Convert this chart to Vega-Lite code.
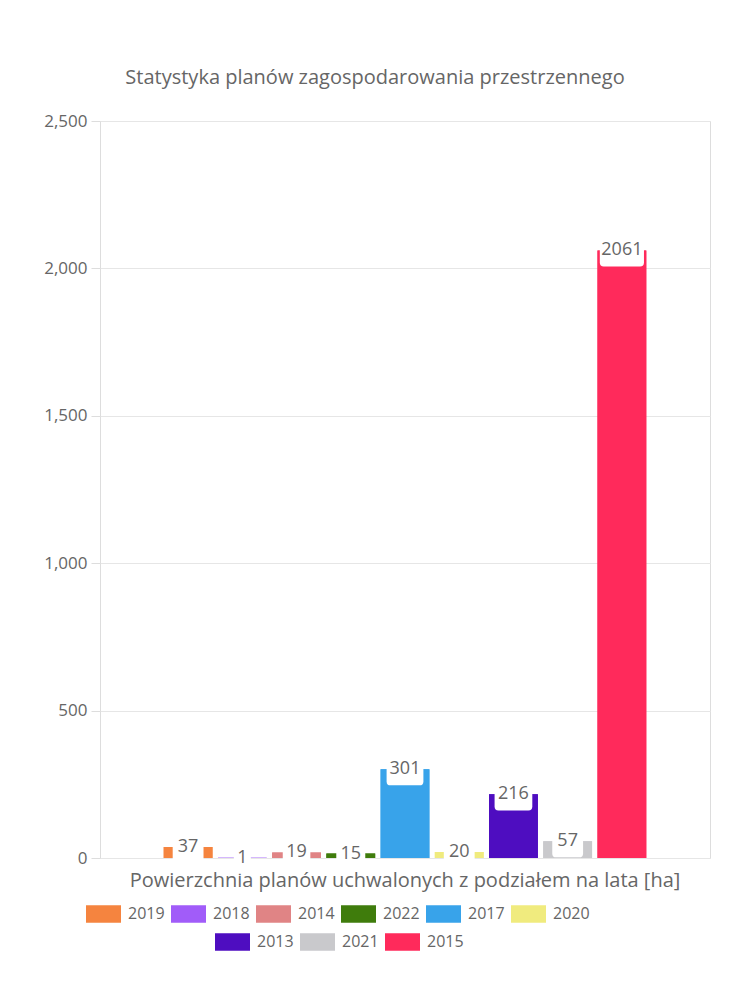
{
  "$schema": "https://vega.github.io/schema/vega-lite/v6.json",
  "width": 610,
  "height": 737,
  "autosize": {"type": "none"},
  "padding": {"left": 100, "top": 121, "right": 40, "bottom": 142},
  "background": "white",
  "config": {
    "font": "Open Sans",
    "view": {"stroke": "#dddddd"},
    "legend": {
      "title": null,
      "orient": "none",
      "direction": "horizontal",
      "symbolType": "M-1,-0.5H1V0.5H-1Z",
      "symbolSize": 1225,
      "symbolStrokeWidth": 0,
      "symbolOpacity": 1,
      "labelFontSize": 16,
      "labelColor": "#666666",
      "labelOffset": 7,
      "columnPadding": 6,
      "padding": 0
    }
  },
  "title": {
    "text": "Statystyka planów zagospodarowania przestrzennego",
    "fontSize": 20,
    "fontWeight": "normal",
    "color": "#666666",
    "offset": 24,
    "dx": -30
  },
  "data": {
    "values": [
      {"kategoria": "Powierzchnia planów uchwalonych z podziałem na lata [ha]", "rok": "2019", "wartosc": 37},
      {"kategoria": "Powierzchnia planów uchwalonych z podziałem na lata [ha]", "rok": "2018", "wartosc": 1},
      {"kategoria": "Powierzchnia planów uchwalonych z podziałem na lata [ha]", "rok": "2014", "wartosc": 19},
      {"kategoria": "Powierzchnia planów uchwalonych z podziałem na lata [ha]", "rok": "2022", "wartosc": 15},
      {"kategoria": "Powierzchnia planów uchwalonych z podziałem na lata [ha]", "rok": "2017", "wartosc": 301},
      {"kategoria": "Powierzchnia planów uchwalonych z podziałem na lata [ha]", "rok": "2020", "wartosc": 20},
      {"kategoria": "Powierzchnia planów uchwalonych z podziałem na lata [ha]", "rok": "2013", "wartosc": 216},
      {"kategoria": "Powierzchnia planów uchwalonych z podziałem na lata [ha]", "rok": "2021", "wartosc": 57},
      {"kategoria": "Powierzchnia planów uchwalonych z podziałem na lata [ha]", "rok": "2015", "wartosc": 2061}
    ]
  },
  "encoding": {
    "x": {
      "field": "kategoria",
      "type": "nominal",
      "scale": {"paddingOuter": 0.125, "paddingInner": 0},
      "axis": {
        "title": null,
        "ticks": false,
        "domain": false,
        "labelAngle": 0,
        "labelFontSize": 20,
        "labelColor": "#666666",
        "labelPadding": 12,
        "labelLimit": 700
      }
    },
    "xOffset": {
      "field": "rok",
      "type": "nominal",
      "scale": {
        "domain": ["2019", "2018", "2014", "2022", "2017", "2020", "2013", "2021", "2015"],
        "paddingInner": 0.1,
        "paddingOuter": 0.05
      }
    },
    "y": {
      "field": "wartosc",
      "type": "quantitative",
      "scale": {"domain": [0, 2500]},
      "axis": {
        "title": null,
        "values": [0, 500, 1000, 1500, 2000, 2500],
        "format": ",.0f",
        "labelFontSize": 17,
        "labelColor": "#666666",
        "labelPadding": 4,
        "tickSize": 9,
        "tickColor": "#dddddd",
        "domain": false,
        "gridColor": "#e6e6e6"
      }
    }
  },
  "layer": [
    {
      "mark": {"type": "bar"},
      "encoding": {
        "color": {
          "field": "rok",
          "type": "nominal",
          "scale": {
            "domain": ["2019", "2018", "2014", "2022", "2017", "2020", "2013", "2021", "2015"],
            "range": ["#F5843F", "#A15CF9", "#E08485", "#3F7C0C", "#38A3EA", "#F0EB7E", "#4E0DC0", "#C9C9CC", "#FF2A5B"]
          },
          "legend": {
            "values": ["2019", "2018", "2014", "2022", "2017", "2020"],
            "legendX": -14,
            "legendY": 775
          }
        }
      }
    },
    {
      "mark": {"type": "bar"},
      "encoding": {
        "fill": {
          "field": "rok",
          "type": "nominal",
          "scale": {
            "domain": ["2013", "2021", "2015", "2019", "2018", "2014", "2022", "2017", "2020"],
            "range": ["#4E0DC0", "#C9C9CC", "#FF2A5B", "#F5843F", "#A15CF9", "#E08485", "#3F7C0C", "#38A3EA", "#F0EB7E"]
          },
          "legend": {
            "values": ["2013", "2021", "2015"],
            "legendX": 115,
            "legendY": 803
          }
        }
      }
    },
    {
      "mark": {
        "type": "point",
        "size": 2116,
        "filled": true,
        "color": "white",
        "opacity": 1,
        "strokeWidth": 0
      },
      "encoding": {
        "shape": {
          "field": "rok",
          "type": "nominal",
          "legend": null,
          "scale": {
            "domain": ["2015", "2021", "2013", "2020", "2017", "2022", "2014", "2018", "2019"],
            "range": [
              "M-0.96,-0.7H0.96V0.53Q0.96,0.7 0.79,0.7H-0.79Q-0.96,0.7 -0.96,0.53Z",
              "M-0.67,-0.7H0.67V0.53Q0.67,0.7 0.5,0.7H-0.5Q-0.67,0.7 -0.67,0.53Z",
              "M-0.82,-0.7H0.82V0.53Q0.82,0.7 0.65,0.7H-0.65Q-0.82,0.7 -0.82,0.53Z",
              "M-0.67,-0.7H0.67V0.53Q0.67,0.7 0.5,0.7H-0.5Q-0.67,0.7 -0.67,0.53Z",
              "M-0.8,-0.7H0.8V0.53Q0.8,0.7 0.63,0.7H-0.63Q-0.8,0.7 -0.8,0.53Z",
              "M-0.63,-0.7H0.63V0.53Q0.63,0.7 0.46,0.7H-0.46Q-0.63,0.7 -0.63,0.53Z",
              "M-0.6,-0.7H0.6V0.53Q0.6,0.7 0.43,0.7H-0.43Q-0.6,0.7 -0.6,0.53Z",
              "M-0.37,-0.7H0.37V0.53Q0.37,0.7 0.2,0.7H-0.2Q-0.37,0.7 -0.37,0.53Z",
              "M-0.67,-0.7H0.67V0.53Q0.67,0.7 0.5,0.7H-0.5Q-0.67,0.7 -0.67,0.53Z"
            ]
          }
        }
      }
    },
    {
      "mark": {
        "type": "text",
        "color": "#666666",
        "fontSize": 18,
        "baseline": "middle"
      },
      "encoding": {"text": {"field": "wartosc", "type": "quantitative"}}
    }
  ]
}
